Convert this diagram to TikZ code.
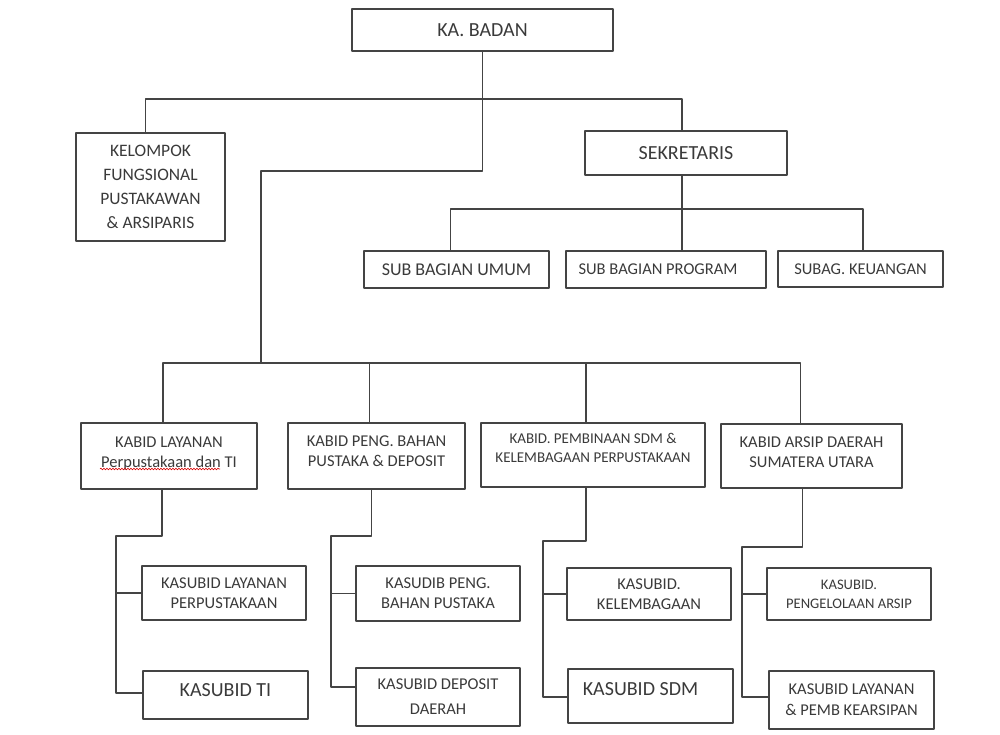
\documentclass[tikz,border=0pt]{standalone}
\usepackage{fontspec}
\setmainfont{Carlito}
\usetikzlibrary{decorations.pathmorphing}
\definecolor{garis}{HTML}{444444}
\definecolor{huruf}{HTML}{3A3A3A}
\begin{document}
\begin{tikzpicture}[x=1pt,y=-1pt,line join=round,
  kotak/.style={draw=garis,line width=1.2pt,text=huruf,align=center,inner sep=2pt,
    font=\fontsize{16.5}{20}\selectfont},
  uk/.style 2 args={minimum width=#1pt,minimum height=#2pt},
  hub/.style={draw=garis,line width=1.2pt}]
\useasboundingbox (0,0) rectangle (1000,735);
% pimpinan dan sekretariat
\node[kotak,uk={261}{42},font=\fontsize{20}{24}\selectfont] (kabadan) at (482.5,30) {KA. BADAN};
\node[kotak,uk={149}{108},font=\fontsize{17.5}{24}\selectfont] (kelompok) at (150.5,187)
  {KELOMPOK\\FUNGSIONAL\\PUSTAKAWAN\\\& ARSIPARIS};
\node[kotak,uk={202}{44},font=\fontsize{20}{24}\selectfont] (sekretaris) at (686,153) {SEKRETARIS};
\node[kotak,uk={185}{37},font=\fontsize{18}{22}\selectfont] (subumum) at (456.5,269.5) {SUB BAGIAN UMUM};
\node[kotak,uk={200}{37}] (subprogram) at (666,269.5) {\hbox{SUB BAGIAN PROGRAM\kern16pt}};
\node[kotak,uk={165}{36}] (keuangan) at (860.5,269) {SUBAG. KEUANGAN};
% kepala bidang
\node[kotak,uk={176}{66},text depth=8pt] (kabid1) at (169,456) {KABID LAYANAN\\Perpustakaan dan TI};
\node[kotak,uk={177}{66},text depth=10pt] (kabid2) at (376.5,456) {KABID PENG. BAHAN\\PUSTAKA \& DEPOSIT};
\node[kotak,uk={224}{64},text depth=14pt,font=\fontsize{15}{19}\selectfont] (kabid3) at (593,455)
  {KABID. PEMBINAAN SDM \&\\KELEMBAGAAN PERPUSTAKAAN};
\node[kotak,uk={181}{64},text depth=7pt] (kabid4) at (811.5,456) {KABID ARSIP DAERAH\\SUMATERA UTARA};
% kepala sub bidang
\node[kotak,uk={164}{54}] (sub1a) at (224,593) {KASUBID LAYANAN\\PERPUSTAKAAN};
\node[kotak,uk={165}{48},text depth=10pt,font=\fontsize{20}{24}\selectfont] (sub1b) at (225.5,695) {KASUBID TI};
\node[kotak,uk={164}{55}] (sub2a) at (438,593.5) {KASUDIB PENG.\\BAHAN PUSTAKA};
\node[kotak,uk={164}{58},font=\fontsize{16.5}{25}\selectfont] (sub2b) at (438,697) {KASUBID DEPOSIT\\DAERAH};
\node[kotak,uk={164}{52}] (sub3a) at (649,594) {KASUBID.\\KELEMBAGAAN};
\node[kotak,uk={165}{54},text depth=14pt,font=\fontsize{20}{24}\selectfont] (sub3b) at (650.5,696)
  {\hbox{KASUBID SDM\kern20pt}};
\node[kotak,uk={164}{52},font=\fontsize{14.6}{19}\selectfont] (sub4a) at (849,594) {KASUBID.\\PENGELOLAAN ARSIP};
\node[kotak,uk={165}{58},font=\fontsize{16.5}{21}\selectfont] (sub4b) at (851.5,700) {KASUBID LAYANAN\\\& PEMB KEARSIPAN};
% garis komando
\coordinate (bus1) at (0,99);
\coordinate (bus2) at (0,209);
\coordinate (bus3) at (0,363);
\draw[hub] (kabadan.south) |- (261,171) -- (261,363);
\draw[hub] ([xshift=-5pt]kelompok.north) |- ([xshift=-4pt]sekretaris.north |- bus1) -- ([xshift=-4pt]sekretaris.north);
\draw[hub] ([xshift=-4pt]sekretaris.south) -- ([xshift=-4pt]sekretaris.south |- subprogram.north);
\draw[hub] ([xshift=-6pt]subumum.north) |- ([xshift=2.5pt]keuangan.north |- bus2) -- ([xshift=2.5pt]keuangan.north);
\draw[hub] ([xshift=-6pt]kabid1.north) |- ([xshift=-11pt]kabid4.north |- bus3) -- ([xshift=-11pt]kabid4.north);
\foreach \i/\dx in {2/-7,3/-7}
  \draw[hub] ([xshift=\dx pt]kabid\i.north) -- ([xshift=\dx pt]kabid\i.north |- bus3);
\foreach \i/\dx/\yb/\xb/\dy in {1/-7/536/116/2,2/-5/536/331/10,3/-7/541/543/-1,4/-9/547/742/3}{
  \draw[hub] ([xshift=\dx pt]kabid\i.south) |- (\xb,\yb) coordinate (tiang\i) |- ([yshift=\dy pt]sub\i b.west);
  \draw[hub] (tiang\i |- sub\i a.west) -- (sub\i a.west);
}
% garis merah ejaan
\draw[red!85!black,line width=0.6pt,decorate,decoration={snake,amplitude=0.8pt,segment length=3pt}]
  (100,469) -- (220,469);
\end{tikzpicture}
\end{document}
